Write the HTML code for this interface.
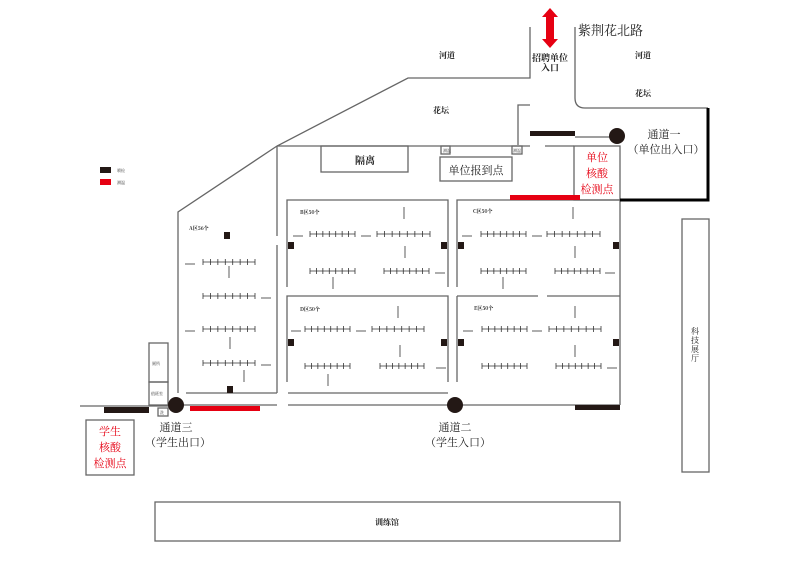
<!DOCTYPE html>
<html><head><meta charset="utf-8"><style>
html,body{margin:0;padding:0;background:#fff;}
svg{display:block;}
text{font-family:"Noto Serif CJK SC","Liberation Serif",serif;}
</style></head><body>
<svg id="s" width="799" height="565" viewBox="0 0 799 565" xmlns="http://www.w3.org/2000/svg">
<g fill="none" stroke="#666" stroke-width="1.3">
<polyline points="178,393 178,212 277,146 408,78 530,78 530,27"/>
<polyline points="530,105 518,105 518,145"/>
<path d="M575,27 V98 Q575,108 585,108 H708"/>
<line x1="277" y1="146" x2="530" y2="146"/>
<line x1="545" y1="146" x2="574" y2="146"/>
<line x1="575" y1="137" x2="612" y2="137"/>
<rect x="574" y="146" width="46" height="54"/>
<line x1="277" y1="146" x2="277" y2="236"/>
<line x1="277" y1="245" x2="277" y2="393"/>
<line x1="186" y1="393" x2="277" y2="393"/>
<polyline points="287,287 287,200 448,200 448,287"/>
<polyline points="287,382 287,296 448,296 448,382"/>
<line x1="288" y1="393" x2="448" y2="393"/>
<polyline points="457,287 457,200 620,200 620,405"/>
<line x1="457" y1="296" x2="538" y2="296"/>
<line x1="547" y1="296" x2="620" y2="296"/>
<line x1="457" y1="296" x2="457" y2="382"/>
<line x1="80" y1="406" x2="170" y2="406"/>
<line x1="180" y1="405" x2="277" y2="405"/>
<line x1="288" y1="405" x2="620" y2="405"/>
<rect x="149" y="343" width="19" height="39"/>
<rect x="149" y="382" width="19" height="23"/>
<rect x="158" y="408" width="10" height="8"/>
<rect x="86" y="420" width="48" height="55"/>
<rect x="321" y="146" width="87" height="26"/>
<rect x="440" y="157" width="72" height="24"/>
<rect x="441" y="146" width="9" height="8"/>
<rect x="512" y="146" width="10" height="8"/>
<rect x="682" y="219" width="27" height="253"/>
<rect x="155" y="502" width="465" height="39"/>
</g>
<g fill="#231815">
<rect x="530" y="131" width="45" height="5"/>
<rect x="104" y="407" width="45" height="6"/>
<rect x="575" y="405" width="45" height="5"/>
<rect x="100" y="167" width="11" height="6"/>
<circle cx="617" cy="136" r="8"/>
<circle cx="176" cy="405" r="8"/>
<circle cx="455" cy="405" r="8"/>
</g>
<path d="M708,108 V200 H620" fill="none" stroke="#000" stroke-width="3"/>
<g fill="#e60012">
<rect x="510" y="195" width="70" height="5"/>
<rect x="190" y="406" width="70" height="5"/>
<rect x="100" y="179" width="11" height="6"/>
<polygon points="550,8 558,17 554,17 554,39 558,39 550,48 542,39 546,39 546,17 542,17"/>
</g>
<g font-size="4" fill="#333"><text x="117" y="172">喷检</text><text x="117" y="184">测温</text>
<text x="152" y="365">厕所</text><text x="151" y="395">值班室</text><text x="160" y="414">洗</text>
<text x="443" y="152">测温</text><text x="513" y="152">测温</text></g>
<g fill="#222" text-anchor="middle">
<text x="578" y="35" font-size="13" text-anchor="start">紫荆花北路</text>
<text x="447" y="58" font-size="8" font-weight="bold">河道</text>
<text x="643" y="58" font-size="8" font-weight="bold">河道</text>
<text x="441" y="113" font-size="8" font-weight="bold">花坛</text>
<text x="643" y="96" font-size="8" font-weight="bold">花坛</text>
<text x="550" y="61" font-size="9" font-weight="bold">招聘单位</text>
<text x="550" y="71" font-size="9" font-weight="bold">入口</text>
<text x="365" y="164" font-size="10" font-weight="bold">隔离</text>
<text x="476" y="174" font-size="11">单位报到点</text>
<text x="664" y="138" font-size="11">通道一</text>
<text x="666" y="153" font-size="11">（单位出入口）</text>
<text x="176" y="431" font-size="11">通道三</text>
<text x="178" y="446" font-size="11">（学生出口）</text>
<text x="455" y="431" font-size="11">通道二</text>
<text x="458" y="446" font-size="11">（学生入口）</text>
<text x="387" y="525" font-size="8" font-weight="bold">训练馆</text>
<text x="695" y="334" font-size="8">科</text><text x="695" y="343" font-size="8">技</text><text x="695" y="352" font-size="8">展</text><text x="695" y="361" font-size="8">厅</text>
</g>
<g fill="#e60012" text-anchor="middle" font-size="11">
<text x="597" y="161">单位</text><text x="597" y="177">核酸</text><text x="597" y="193">检测点</text>
<text x="110" y="435">学生</text><text x="110" y="451">核酸</text><text x="110" y="467">检测点</text>
</g>
<g font-size="5" font-weight="bold" fill="#222">
<text x="189" y="230">A区56个</text><text x="300" y="214">B区50个</text><text x="300" y="311">D区50个</text>
<text x="473" y="213">C区50个</text><text x="474" y="310">E区50个</text>
</g>
<g id="rows" stroke="#333" stroke-width="0.8" fill="none"></g>
<g id="sq" fill="#231815"></g>
</svg>
<script>
var R=[[203,255,262],[203,255,296],[203,255,329],[203,255,363],
[310,355,234],[377,430,234],[310,355,271],[384,429,271],
[305,350,329],[372,424,329],[305,350,366],[380,424,366],
[481,526,234],[547,600,234],[481,526,271],[555,600,271],
[482,527,329],[549,601,329],[482,527,366],[556,601,366]];
var g=document.getElementById('rows'),h='';
R.forEach(function(r){h+='<line x1="'+r[0]+'" y1="'+r[2]+'" x2="'+r[1]+'" y2="'+r[2]+'"/>';
for(var i=0;i<8;i++){var x=r[0]+(r[1]-r[0])*i/7;h+='<line x1="'+x+'" y1="'+(r[2]-3)+'" x2="'+x+'" y2="'+(r[2]+3)+'"/>';}});
var V=[[229,272],[230,343],[244,376],[404,213],[405,252],[333,283],[398,312],[400,351],[328,380],[573,213],[575,252],[503,283],[575,312],[575,351]];
V.forEach(function(v){h+='<line x1="'+v[0]+'" y1="'+(v[1]-6)+'" x2="'+v[0]+'" y2="'+(v[1]+6)+'"/>';});
var Hh=[[190,264],[266,298],[190,331],[266,365],[298,236],[366,236],[440,273],[296,331],[361,331],[441,368],[467,236],[537,236],[610,273],[468,331],[537,331],[612,368]];
Hh.forEach(function(a){h+='<line x1="'+(a[0]-5)+'" y1="'+a[1]+'" x2="'+(a[0]+5)+'" y2="'+a[1]+'"/>';});
g.innerHTML=h;
var S=[[224,232],[227,386],[288,242],[441,242],[288,339],[441,339],[458,242],[613,242],[458,339],[613,339]],s='';
S.forEach(function(p){s+='<rect x="'+p[0]+'" y="'+p[1]+'" width="6" height="7"/>';});
document.getElementById('sq').innerHTML=s;
</script>
</body></html>
